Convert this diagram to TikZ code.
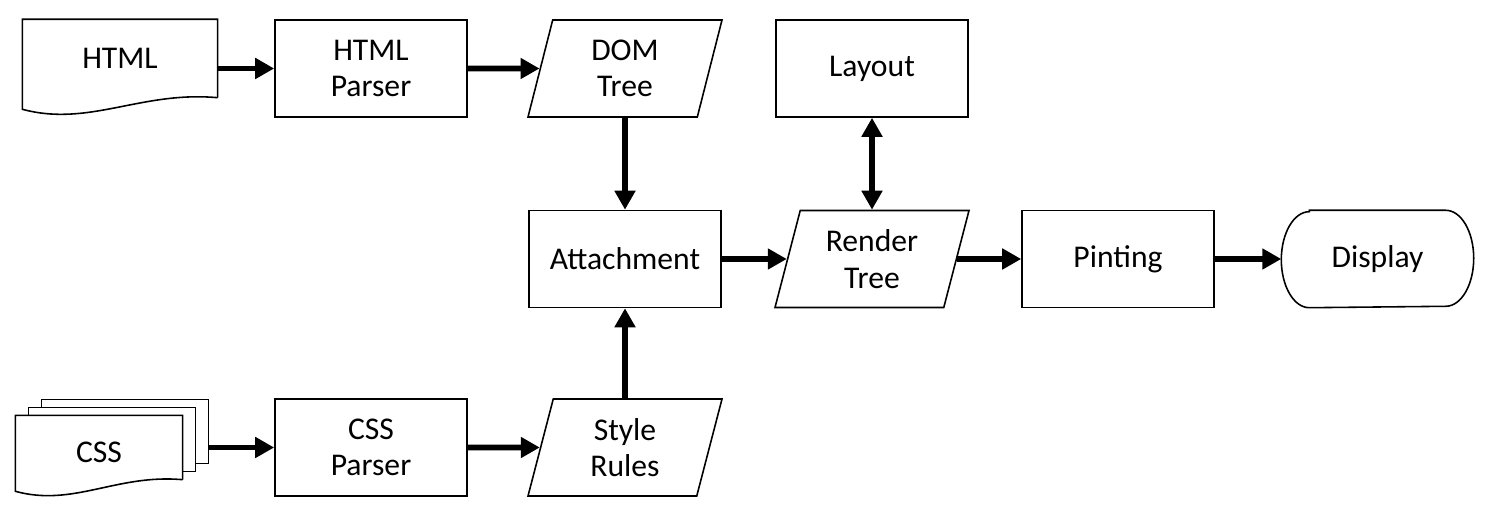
\documentclass[tikz,border=0pt]{standalone}
\usepackage{fontspec}
\setmainfont{Carlito}
\usetikzlibrary{shapes.geometric,arrows.meta,backgrounds}

\begin{document}
\begin{tikzpicture}[
  font=\fontsize{9}{10.4}\selectfont,
  >={Triangle[length=0.19cm,width=0.2cm]},
  box/.style={draw, line width=0.45pt, minimum width=1.92cm, minimum height=0.97cm, align=center, inner sep=1pt},
  data/.style={box, trapezium, trapezium left angle=69, trapezium right angle=111, trapezium stretches body, minimum width=1.94cm},
  term/.style={minimum width=1.91cm, minimum height=0.96cm, inner sep=1pt},
  doc/.style={minimum width=1.94cm, minimum height=0.77cm, inner sep=0pt},
  sheet/.style={line width=0.45pt, fill=white},
  flow/.style={line width=1.6pt, ->},
]
  \useasboundingbox (0,0) rectangle (14.9,5.2);

  % Top row: HTML side
  \node[doc] (html) at (1.20,4.615) {HTML};
  \begin{scope}[on background layer]
    \draw[sheet] (html.south east) -- (html.north east) -- (html.north west) -- ++(0,-0.90)
      .. controls +(0.67,-0.18) and +(-0.77,0.07) .. (html.south east);
  \end{scope}
  \node[box] (hparser) at (3.71,4.515) {HTML\\Parser};
  \node[data] (dom) at (6.25,4.515) {DOM\\Tree};
  \node[box] (layout) at (8.72,4.515) {Layout};

  % Middle row
  \node[box] (attach) at (6.25,2.61) {Attachment};
  \node[data] (render) at (8.72,2.61) {Render\\Tree};
  \node[box] (paint) at (11.18,2.61) {Pinting};
  \node[term] (display) at (13.775,2.61) {Display};
  \draw[line width=0.45pt] ([xshift=0.28cm]display.north west) -- ([xshift=-0.28cm]display.north east)
    arc[start angle=90, end angle=-90, x radius=0.28cm, y radius=0.48cm]
    -- ([xshift=0.28cm]display.south west)
    arc[start angle=270, end angle=90, x radius=0.28cm, y radius=0.48cm] -- cycle;

  % Bottom row: CSS side (stack of sheets)
  \node[doc, minimum width=1.66cm, minimum height=0.63cm, text height=0.31cm] (css) at (0.99,0.725) {CSS};
  \begin{scope}[on background layer]
    \draw[sheet] ([shift={(0.26,0.16)}]css.south west) rectangle ([shift={(0.26,0.16)}]css.north east);
    \draw[sheet] ([shift={(0.13,0.08)}]css.south west) rectangle ([shift={(0.13,0.08)}]css.north east);
    \draw[sheet] (css.south east) -- (css.north east) -- (css.north west) -- ++(0,-0.76)
      .. controls +(0.58,-0.16) and +(-0.66,0.06) .. (css.south east);
  \end{scope}
  \node[box] (cparser) at (3.71,0.725) {CSS\\Parser};
  \node[data] (style) at (6.25,0.725) {Style\\Rules};

  % Connectors
  \draw[flow] (html.east |- hparser) -- (hparser);
  \draw[flow] (hparser) -- (dom);
  \draw[flow] (dom) -- (attach);
  \draw[flow] (style) -- (attach);
  \draw[flow] (attach) -- (render);
  \draw[flow, <->] (render) -- (layout);
  \draw[flow] (render) -- (paint);
  \draw[flow] (paint) -- (display);
  \draw[flow] ([xshift=0.26cm]css.east) -- (cparser);
  \draw[flow] (cparser) -- (style);
\end{tikzpicture}
\end{document}
